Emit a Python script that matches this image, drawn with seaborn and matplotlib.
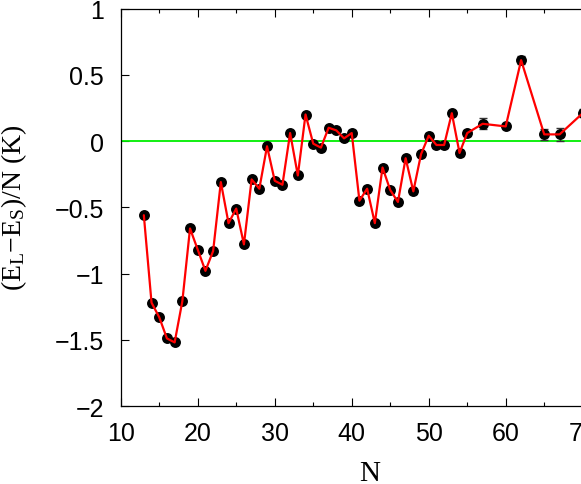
import numpy as np
import pandas as pd
import seaborn as sns
import matplotlib
matplotlib.use("Agg")
import matplotlib.pyplot as plt
from matplotlib.ticker import MultipleLocator

# cluster size and energy difference per particle (K)
n_values = [13, 14, 15, 16, 17, 18, 19, 20, 21, 22, 23, 24, 25, 26, 27, 28, 29, 30,
            31, 32, 33, 34, 35, 36, 37, 38, 39, 40, 41, 42, 43, 44, 45, 46, 47, 48,
            49, 50, 51, 52, 53, 54, 55, 57, 60, 62, 65, 67, 70]
delta_e = [-0.56, -1.22, -1.33, -1.49, -1.52, -1.21, -0.66, -0.82, -0.98, -0.83,
           -0.31, -0.62, -0.51, -0.78, -0.29, -0.36, -0.04, -0.30, -0.33, 0.06,
           -0.26, 0.20, -0.02, -0.05, 0.10, 0.08, 0.02, 0.06, -0.45, -0.36,
           -0.62, -0.20, -0.37, -0.46, -0.13, -0.38, -0.10, 0.04, -0.03, -0.03,
           0.21, -0.09, 0.06, 0.13, 0.11, 0.61, 0.05, 0.05, 0.21]
errors = [0.015] * 27 + [0.02] * 16 + [0.04, 0.02, 0.03, 0.04, 0.05, 0.03]

df = pd.DataFrame({"N": n_values, "dE": delta_e, "err": errors})

sns.set_style("ticks")
plt.rcParams["font.family"] = ["Liberation Sans", "DejaVu Sans"]
plt.rcParams["mathtext.fontset"] = "custom"
plt.rcParams["mathtext.rm"] = "Liberation Serif"
plt.rcParams["mathtext.it"] = "Liberation Serif:italic"
plt.rcParams["text.color"] = "black"
plt.rcParams["axes.labelcolor"] = "black"
plt.rcParams["xtick.color"] = "black"
plt.rcParams["ytick.color"] = "black"

fig = plt.figure(figsize=(5.81, 4.85), dpi=100)
# axes run past the right edge, as in the cropped original
ax = fig.add_axes([0.2078, 0.1608, 0.9277, 0.8196])

ax.axhline(0, color="#00ee00", lw=1.3, zorder=1)
ax.errorbar(df["N"], df["dE"], yerr=df["err"], fmt="none", ecolor="#333333",
            elinewidth=1.0, capsize=3, capthick=1.0, zorder=2)
sns.scatterplot(data=df, x="N", y="dE", color="black", s=62, edgecolor="black",
                linewidth=0, ax=ax, zorder=3)
sns.lineplot(data=df, x="N", y="dE", color="red", lw=1.6, ax=ax, zorder=4)

ax.set_xlim(10, 80)
ax.set_ylim(-2, 1)
ax.xaxis.set_major_locator(MultipleLocator(10))
ax.xaxis.set_minor_locator(MultipleLocator(5))
ax.set_yticks([1, 0.5, 0, -0.5, -1, -1.5, -2])
ax.set_yticklabels(["1", "0.5", "0", "\u22120.5", "\u22121", "\u22121.5", "\u22122"])

ax.tick_params(axis="both", which="major", direction="in", length=6, width=0.8,
               labelsize=18, top=True, right=False, pad=11)
ax.tick_params(axis="x", which="minor", direction="in", length=3, width=0.8, top=True)
ax.tick_params(axis="y", which="major", pad=12)
for sp in ax.spines.values():
    sp.set_linewidth(0.9)
    sp.set_color("black")

ax.set_xlabel("N", fontsize=21, family="Liberation Serif")
ax.set_ylabel(r"(E$_{\mathrm{L}}$$-$E$_{\mathrm{S}}$)/N (K)", fontsize=20,
              family="Liberation Serif")
ax.xaxis.set_label_coords(0.4625, -0.136)
ax.yaxis.set_label_coords(-0.170, 0.5)

fig.savefig("out.png", dpi=100)
